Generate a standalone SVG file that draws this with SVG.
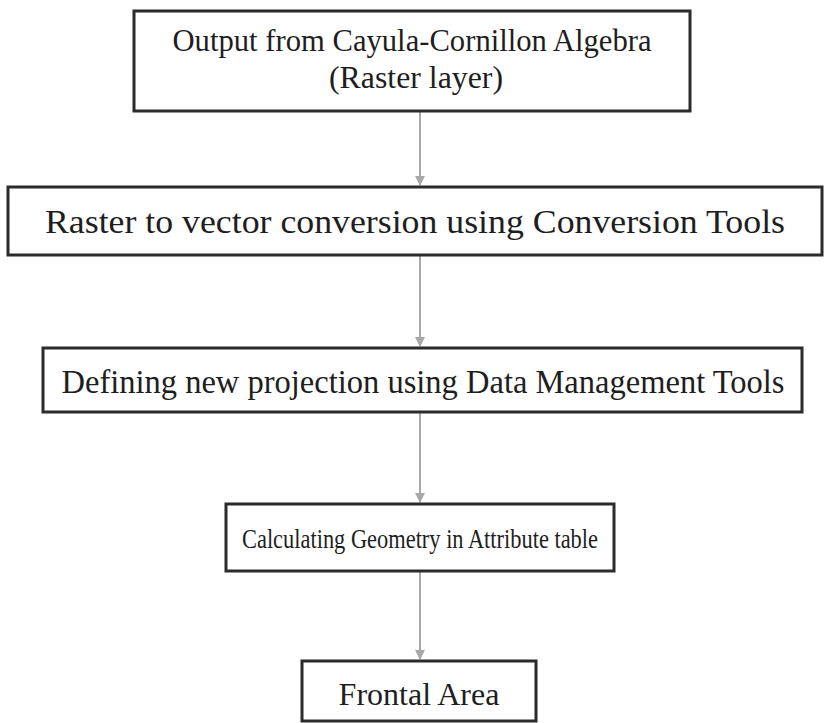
<svg xmlns="http://www.w3.org/2000/svg" width="824" height="723" viewBox="0 0 824 723">
<style>
.box{fill:#fff;stroke:#2b2b2b;stroke-width:3}
.t{font-family:"Liberation Serif","Times New Roman",serif;font-size:32px;fill:#1e1e1e;text-anchor:middle}
.c{stroke:#a8a8a8;stroke-width:2;fill:none}
</style>
<defs>
<marker id="ah" markerWidth="10" markerHeight="12" refX="9" refY="5" orient="auto" markerUnits="userSpaceOnUse" viewBox="0 0 10 10">
<path d="M0,0 L10,5 L0,10 z" fill="#a8a8a8"/>
</marker>
</defs>
<rect width="824" height="723" fill="#fff"/>
<g id="connectors">
<line class="c" x1="420" y1="112" x2="420" y2="185" marker-end="url(#ah)"/>
<line class="c" x1="420" y1="256" x2="420" y2="346" marker-end="url(#ah)"/>
<line class="c" x1="420" y1="413" x2="420" y2="502" marker-end="url(#ah)"/>
<line class="c" x1="420" y1="572" x2="420" y2="659" marker-end="url(#ah)"/>
</g>
<g id="n1">
<rect class="box" x="134" y="11" width="556" height="100"/>
<text class="t" x="412" y="51" textLength="479" lengthAdjust="spacingAndGlyphs">Output from Cayula-Cornillon Algebra</text>
<text class="t" x="416" y="88" textLength="174" lengthAdjust="spacingAndGlyphs">(Raster layer)</text>
</g>
<g id="n2">
<rect class="box" x="8" y="187" width="814" height="68"/>
<text class="t" x="415" y="233" style="font-size:33px" textLength="740" lengthAdjust="spacingAndGlyphs">Raster to vector conversion using Conversion Tools</text>
</g>
<g id="n3">
<rect class="box" x="43" y="348" width="759" height="64"/>
<text class="t" x="423" y="393" style="font-size:33px" textLength="723" lengthAdjust="spacingAndGlyphs">Defining new projection using Data Management Tools</text>
</g>
<g id="n4">
<rect class="box" x="226" y="504" width="388" height="67"/>
<text class="t" x="420" y="548" style="font-size:27px" textLength="356" lengthAdjust="spacingAndGlyphs">Calculating Geometry in Attribute table</text>
</g>
<g id="n5">
<rect class="box" x="302" y="661" width="234" height="60"/>
<text class="t" x="419" y="705">Frontal Area</text>
</g>
</svg>
